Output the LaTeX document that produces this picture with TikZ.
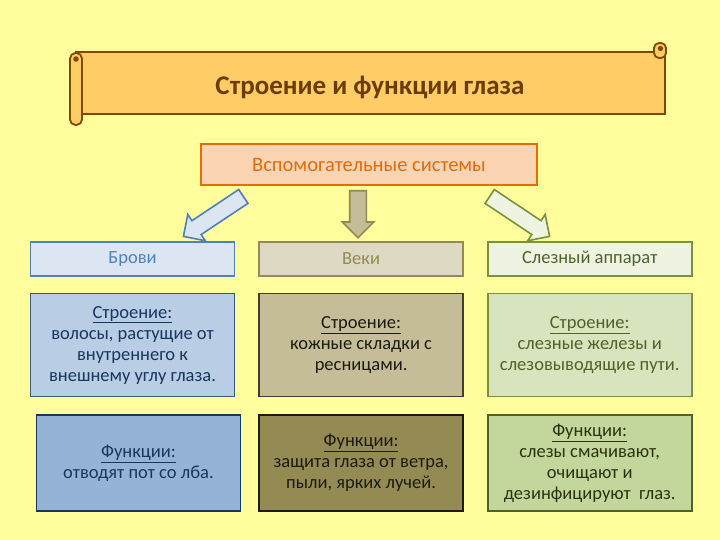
\documentclass[tikz,border=0pt]{standalone}
\usepackage{fontspec}
\setmainfont{Carlito}
\usetikzlibrary{positioning, shapes.arrows}

\definecolor{bgyellow}{HTML}{FFFD9C}
\definecolor{scrollfill}{HTML}{FFCC66}
\definecolor{scrollline}{HTML}{7F4A00}
\definecolor{titletext}{HTML}{6B3D05}
\definecolor{sysfill}{HTML}{FBD4B4}
\definecolor{sysline}{HTML}{E46C0A}
% column colours
\definecolor{blueA}{HTML}{DCE6F2}
\definecolor{blueB}{HTML}{B9CDE5}
\definecolor{blueC}{HTML}{95B3D7}
\definecolor{blueLine}{HTML}{4F81BD}
\definecolor{blueDark}{HTML}{17375E}
\definecolor{tanA}{HTML}{DDD9C3}
\definecolor{tanB}{HTML}{C4BD97}
\definecolor{tanC}{HTML}{948A54}
\definecolor{tanDark}{HTML}{1D1B10}
\definecolor{greenA}{HTML}{EEF3E2}
\definecolor{greenB}{HTML}{D7E4BD}
\definecolor{greenC}{HTML}{C3D69B}
\definecolor{greenLine}{HTML}{77933C}
\definecolor{greenDark}{HTML}{4F6228}
\definecolor{greenText}{HTML}{2A3510}

\begin{document}
\begin{tikzpicture}[
    x=1pt, y=-1pt,
    bodyfont/.style={font=\fontsize{18.5}{21}\selectfont},
    scroll/.style={draw=scrollline, fill=scrollfill, line width=1.8pt},
    cell/.style n args={3}{draw=#2, fill=#1, text=#3, line width=1.6pt,
        minimum width=204pt, align=center, inner sep=3pt, bodyfont},
    blockarrow/.style 2 args={single arrow, draw=#2, fill=#1, line width=1.6pt,
        inner sep=7.5pt, single arrow head extend=7.5pt}
  ]
    \fill[bgyellow] (0,0) rectangle (720,540);
    \useasboundingbox (0,0) rectangle (720,540);

    % scroll banner
    \draw[scroll] (76,52) rectangle (665,114);
    \draw[scroll, rounded corners=5pt] (654,43) rectangle (666,58);
    \fill[scrollline] (660.5,48.5) circle (2.6pt);
    \draw[scroll, rounded corners=5.5pt] (70,53) rectangle (82,125);
    \fill[scrollline] (76,59) circle (2.8pt);
    \node[font=\fontsize{27}{30}\selectfont\bfseries, text=titletext] (title) at (370,87) {Строение и функции глаза};

    \node[draw=sysline, fill=sysfill, text=sysline, line width=1.6pt,
        minimum width=336pt, minimum height=41pt,
        font=\fontsize{20.5}{24}\selectfont] (sys) at (369,164.5) {Вспомогательные системы};

    % block arrows
    \node[blockarrow={blueA}{blueLine}, minimum height=72pt, rotate=213.7, anchor=tail] (abrow) at (244,196) {};
    \node[blockarrow={tanB}{tanC}, minimum height=47pt, rotate=270, anchor=tail] (alid) at (358,190) {};
    \node[blockarrow={greenA}{greenLine}, minimum height=72pt, rotate=-33.7, anchor=tail] (atear) at (489,196) {};

    % headers
    \node[cell={blueA}{blueLine}{blueLine}, minimum height=34pt] (brow) at (132.5,259) {Брови};
    \node[cell={tanA}{tanC}{tanC}, minimum height=34pt, right=23pt of brow] (lid) {Веки};
    \node[cell={greenA}{greenLine}{greenDark}, minimum height=34pt, right=23pt of lid] (tear) {Слезный аппарат};

    % structure
    \node[cell={blueB}{blueLine!70!black}{blueDark}, minimum height=103pt, below=16pt of brow] (browS)
        {\underline{Строение:}\\волосы, растущие от\\внутреннего к\\внешнему углу глаза.};
    \node[cell={tanB}{tanDark!85}{tanDark}, minimum height=103pt, below=16pt of lid] (lidS)
        {\underline{Строение:}\\кожные складки с\\ресницами.};
    \node[cell={greenB}{greenLine}{greenDark}, minimum height=103pt, below=16pt of tear] (tearS)
        {\underline{Строение:}\\слезные железы и\\слезовыводящие пути.};

    % functions
    \node[cell={blueC}{blueDark}{blueDark}, minimum height=96pt, below=17pt of browS, xshift=6pt] (browF)
        {\underline{Функции:}\\отводят пот со лба.};
    \node[cell={tanC}{tanDark}{tanDark}, minimum height=96pt, below=17pt of lidS] (lidF)
        {\underline{Функции:}\\защита глаза от ветра,\\пыли, ярких лучей.};
    \node[cell={greenC}{greenDark}{greenText}, minimum height=96pt, below=17pt of tearS] (tearF)
        {\underline{Функции:}\\слезы смачивают,\\очищают и\\дезинфицируют~ глаз.};
  \end{tikzpicture}
\end{document}
